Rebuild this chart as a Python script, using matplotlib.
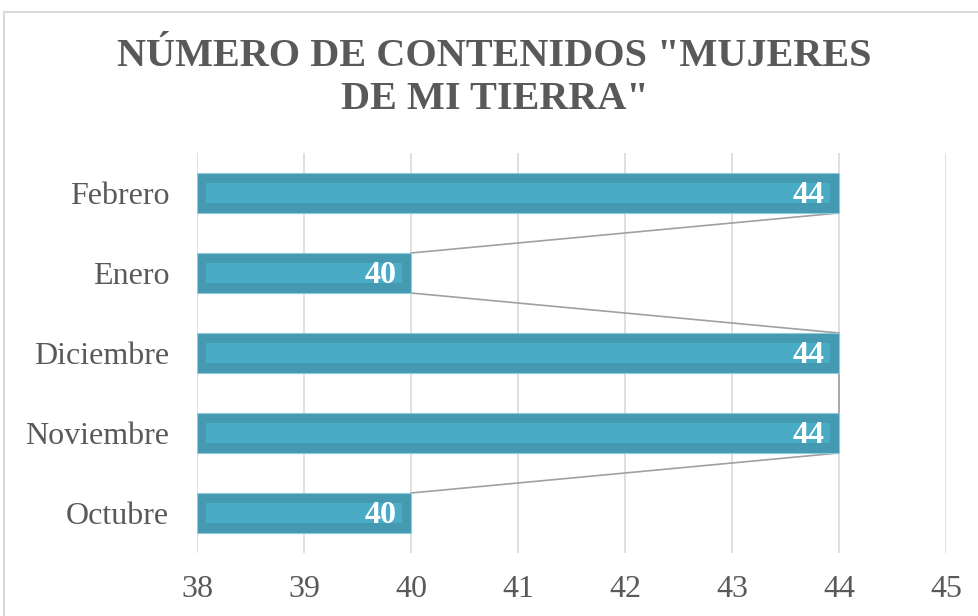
import matplotlib
matplotlib.use("Agg")
import matplotlib.pyplot as plt
from matplotlib.patches import Rectangle

categories = ["Octubre", "Noviembre", "Diciembre", "Enero", "Febrero"]
values = [40, 44, 44, 40, 44]
xticks = [38, 39, 40, 41, 42, 43, 44, 45]
title = 'NÚMERO DE CONTENIDOS "MUJERES\nDE MI TIERRA"'

plt.rcParams['font.family'] = ['Liberation Serif', 'DejaVu Serif']

fig = plt.figure(figsize=(9.79, 6.16), dpi=100)
ax = fig.add_axes([197/979, 63/616, (946-197)/979, 400/616])

xmin = 38
bar_h = 0.5
inner_h = 0.25
inset = 0.085
y = list(range(len(categories)))

ax.barh(y, [v - xmin for v in values], left=xmin, height=bar_h,
        color="#4599b1", edgecolor="#8ccbdc", linewidth=0.8, zorder=3)
ax.barh(y, [v - xmin - 2*inset for v in values], left=xmin + inset, height=inner_h,
        color="#4aabc5", linewidth=0, zorder=4)

# series lines
for i in range(len(values) - 1):
    ax.plot([values[i], values[i+1]], [y[i] + bar_h/2, y[i+1] - bar_h/2],
            color="#a0a0a0", lw=1.2, zorder=2)

for yi, v in zip(y, values):
    ax.annotate(str(v), (v, yi), xytext=(-10, -2), textcoords="offset points",
                ha="right", va="center", color="white", fontsize=23,
                fontweight="bold", zorder=5)

ax.set_xlim(38, 45)
ax.set_ylim(-0.5, 4.5)
ax.set_xticks(xticks)
ax.set_xticklabels([str(t) for t in xticks])
ax.set_yticks(y)
ax.set_yticklabels(categories)
ax.tick_params(axis="both", length=0, labelsize=23, colors="#595959")
ax.tick_params(axis="x", pad=16)
ax.tick_params(axis="y", pad=20)
ax.xaxis.grid(True, color="#d9d9d9", lw=1.2, zorder=0)
ax.set_axisbelow(True)
for s in ax.spines.values():
    s.set_visible(False)

fig.text(0.505, 1 - 78/616, title, ha="center", va="center",
         fontsize=29, fontweight="bold", color="#595959", linespacing=1.2)

fig.patches.append(Rectangle((4/979, -0.1), 1.2, 1 - 12/616 + 0.1,
                             transform=fig.transFigure, fill=False,
                             edgecolor="#d9d9d9", lw=1.5))

fig.savefig("out.png", dpi=100)
